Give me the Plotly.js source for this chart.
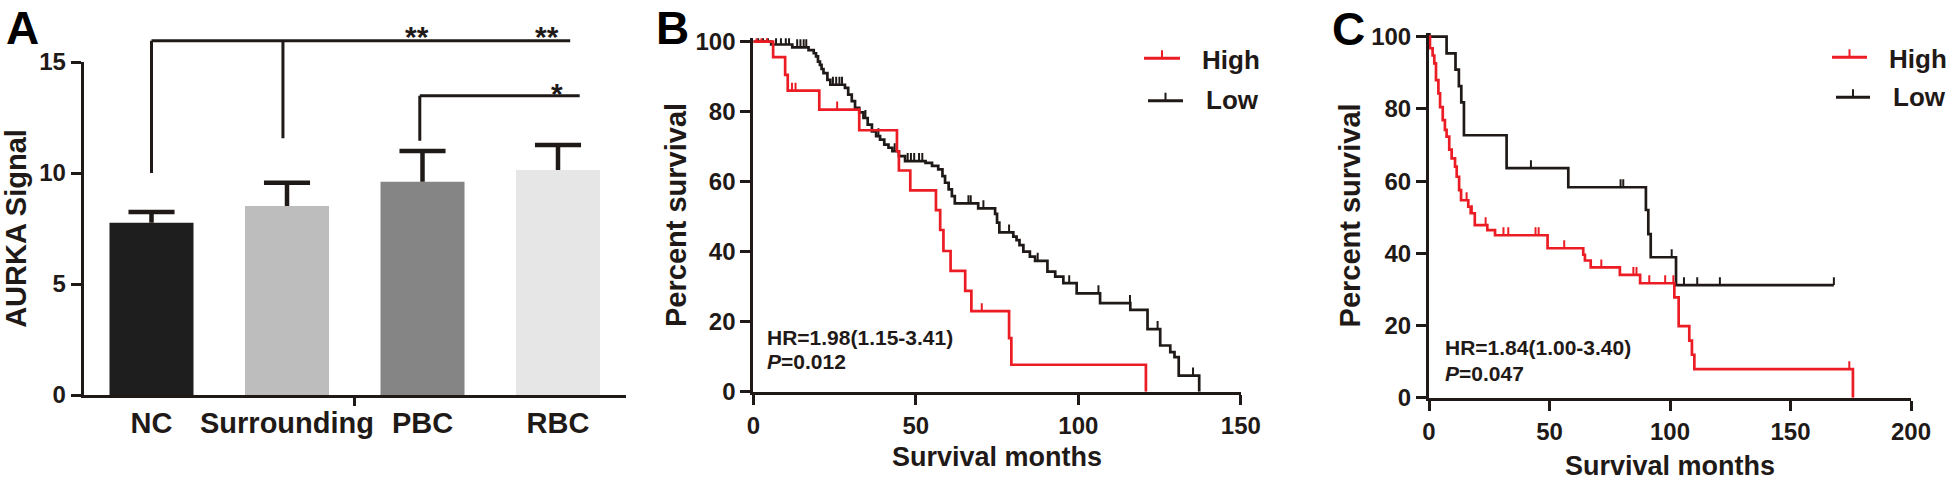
<!DOCTYPE html>
<html>
<head>
<meta charset="utf-8">
<script src="https://cdn.plot.ly/plotly-3.0.1.min.js"></script>
<style>
html,body{margin:0;padding:0;background:#ffffff;}
#chart{width:1946px;height:481px;}
</style>
</head>
<body>
<div id="chart"></div>
<script>
// ---------------- Panel A data ----------------
const groupPos = [0, 1, 2, 3];
const groupLabels = ['NC', 'Surrounding', 'PBC', 'RBC'];
const signalMean = [7.76, 8.51, 9.61, 10.14];
const signalSD = [0.48, 1.05, 1.38, 1.12];
const barColors = ['#1e1e1e', '#bdbdbd', '#858585', '#e6e6e6'];
// significance bracket segments (x in group index, y in signal units)
const bracketX0 = [0.00, 0.00, 0.97, 1.98, 1.98];
const bracketY0 = [15.96, 10.00, 11.56, 13.48, 11.45];
const bracketX1 = [3.09, 0.00, 0.97, 3.16, 1.98];
const bracketY1 = [15.96, 15.96, 15.96, 13.48, 13.48];
const sigText = ['**', '**', '*'];
const sigX = [1.96, 2.92, 2.99];
const sigY = [16.15, 16.15, 13.6];

// ---------------- Panel B data (months, % survival) ----------------
const bHighT = [0, 6.1, 9.8, 10.6, 20.3, 32.6, 44.2, 44.8, 48.3, 56.2, 57.5, 58.5, 60.7, 65.2, 67.1, 78.7, 79.4, 120.8];
const bHighS = [100, 95.6, 90.5, 86.0, 80.6, 74.7, 68.7, 63.2, 57.5, 51.9, 46.2, 40.2, 34.5, 28.8, 23.0, 15.3, 7.7, 0];
const bHighCensor = [1.0, 2.5, 4.2, 11.9, 13.0, 25.8, 70.3];
const bLowT = [0, 5.5, 12.0, 17.0, 18.6, 19.3, 19.9, 20.5, 21.0, 21.6, 22.8, 23.7, 28.2, 29.2, 30.3, 31.3, 32.6, 33.9, 35.2, 36.5, 37.8, 39.0, 40.3, 41.6, 42.8, 44.8, 46.7, 53.0, 55.0, 56.9, 58.2, 59.0, 60.1, 61.1, 62.0, 69.2, 74.4, 75.0, 75.7, 80.0, 81.0, 81.9, 83.1, 85.1, 86.7, 90.5, 92.9, 95.4, 99.5, 106.7, 116.0, 121.3, 125.2, 128.3, 129.6, 130.9, 137.2];
const bLowS = [100, 99.2, 98.4, 97.6, 96.7, 95.8, 94.3, 93.4, 92.2, 91.0, 89.1, 87.7, 86.8, 84.9, 83.0, 81.1, 79.8, 78.2, 76.3, 74.4, 73.0, 72.0, 70.6, 69.7, 68.7, 67.3, 65.9, 65.4, 64.5, 63.5, 61.6, 59.7, 57.8, 55.9, 53.8, 52.4, 50.8, 48.3, 45.5, 44.3, 43.3, 41.9, 40.0, 38.6, 37.4, 34.3, 32.9, 31.0, 28.1, 25.3, 23.4, 17.9, 13.2, 11.3, 9.9, 4.6, 0];
const bLowCensor = [1.5, 3.0, 4.5, 7.0, 8.5, 10.0, 11.0, 13.5, 14.5, 15.5, 16.3, 24.5, 25.5, 26.5, 27.3, 34.5, 38.5, 43.5, 47.5, 48.5, 49.5, 51.0, 52.0, 66.2, 66.9, 70.8, 78.7, 87.5, 97.2, 106.2, 115.9, 124.4, 135.3];
const bStats = ['HR=1.98(1.15-3.41)', '<i>P</i>=0.012'];

// ---------------- Panel C data ----------------
const cHighT = [0, 0.4, 1.5, 2.2, 2.9, 3.9, 4.6, 5.7, 6.6, 7.3, 8.4, 9.4, 10.8, 11.5, 12.5, 13.3, 16.3, 17.3, 19.0, 24.2, 27.4, 49.2, 64.0, 64.7, 67.1, 79.2, 87.6, 101.8, 103.6, 108.0, 109.1, 110.1, 175.9];
const cHighS = [100, 96.8, 94.8, 92.6, 88.0, 84.3, 80.5, 76.9, 74.2, 72.3, 68.7, 66.3, 64.0, 61.2, 57.5, 54.7, 52.9, 51.1, 47.8, 46.4, 45.0, 41.4, 39.6, 38.0, 36.1, 34.0, 31.7, 27.8, 19.8, 15.8, 11.9, 7.9, 0];
const cHighCensor = [15.6, 17.8, 23.5, 30.9, 32.9, 44.2, 45.5, 56.1, 71.5, 84.8, 86.1, 91.4, 98.0, 101.4, 174.4];
const cLowT = [0, 7.3, 11.0, 12.4, 13.4, 14.5, 32.2, 57.8, 90.0, 91.0, 92.0, 102.5, 168.0];
const cLowS = [100, 95.4, 90.9, 86.3, 81.8, 72.7, 63.6, 58.3, 52.0, 45.3, 38.9, 31.2, 31.2];
const cLowCensor = [0.3, 42.3, 79.5, 80.6, 100.7, 105.8, 111.3, 120.7, 168.0];
const cStats = ['HR=1.84(1.00-3.40)', '<i>P</i>=0.047'];

const seriesNames = ['High', 'Low'];
const panelLetters = ['A', 'B', 'C'];

// ---------------- styling ----------------
const FONT = '"Liberation Sans", Arial, Helvetica, sans-serif';
const INK = '#1f1a17';
const RED = '#ec1c24';
const W = 1946, H = 481;
const px = x => x / W;
const py = y => 1 - y / H;

function survAt(T, S, t) {
  let s = S[0];
  for (let i = 0; i < T.length; i++) { if (T[i] <= t) s = S[i]; }
  return s;
}
function censorTrace(T, S, C, color, len, xa, ya) {
  const xs = [], ys = [];
  C.forEach(t => { const s = survAt(T, S, t); xs.push(t, t, null); ys.push(s, s + len, null); });
  return {type: 'scatter', mode: 'lines', x: xs, y: ys, xaxis: xa, yaxis: ya,
          line: {color: color, width: 2}, hoverinfo: 'skip', showlegend: false};
}
function kmTrace(T, S, color, xa, ya) {
  return {type: 'scatter', mode: 'lines', x: T, y: S, xaxis: xa, yaxis: ya,
          line: {color: color, width: 2.7, shape: 'hv'}, hoverinfo: 'skip', showlegend: false};
}

// error bar lines for panel A (upward only)
const ebX = [], ebY = [];
groupPos.forEach((g, i) => {
  const top = signalMean[i] + signalSD[i];
  ebX.push(g, g, null, g - 0.17, g + 0.17, null);
  ebY.push(signalMean[i], top, null, top, top, null);
});

const traces = [
  {type: 'bar', x: groupPos, y: signalMean, xaxis: 'x', yaxis: 'y', width: 0.62,
   marker: {color: barColors, line: {width: 0}}, hoverinfo: 'skip', showlegend: false},
  {type: 'scatter', mode: 'lines', x: ebX, y: ebY, xaxis: 'x4', yaxis: 'y4',
   line: {color: INK, width: 4.5}, hoverinfo: 'skip', showlegend: false},
  kmTrace(bLowT, bLowS, INK, 'x2', 'y2'),
  censorTrace(bLowT, bLowS, bLowCensor, INK, 2.3, 'x2', 'y2'),
  kmTrace(bHighT, bHighS, RED, 'x2', 'y2'),
  censorTrace(bHighT, bHighS, bHighCensor, RED, 2.3, 'x2', 'y2'),
  kmTrace(cLowT, cLowS, INK, 'x3', 'y3'),
  censorTrace(cLowT, cLowS, cLowCensor, INK, 2.2, 'x3', 'y3'),
  kmTrace(cHighT, cHighS, RED, 'x3', 'y3'),
  censorTrace(cHighT, cHighS, cHighCensor, RED, 2.2, 'x3', 'y3')
];

const axisBase = {showgrid: false, zeroline: false, showline: true, linewidth: 3, linecolor: INK,
                  ticks: 'outside', ticklen: 10, tickwidth: 3, tickcolor: INK, fixedrange: true};
const tickBold = s => ({family: FONT, size: s, color: INK, weight: 'bold'});

const shapes = [];
bracketX0.forEach((x0, i) => {
  shapes.push({type: 'line', xref: 'x4', yref: 'y4', x0: x0, y0: bracketY0[i], x1: bracketX1[i], y1: bracketY1[i],
               line: {color: INK, width: 3}});
});
// legends (B and C)
const legendDefs = [
  {x0: 1144, x1: 1180, y: 58.3, color: RED, tx: 1200, ty: 60, name: seriesNames[0]},
  {x0: 1148, x1: 1183, y: 100.7, color: INK, tx: 1204, ty: 100, name: seriesNames[1]},
  {x0: 1832, x1: 1867, y: 57.3, color: RED, tx: 1887, ty: 59, name: seriesNames[0]},
  {x0: 1836, x1: 1870, y: 97.3, color: INK, tx: 1891, ty: 97, name: seriesNames[1]}
];
const annotations = [];
legendDefs.forEach(d => {
  shapes.push({type: 'line', xref: 'paper', yref: 'paper', x0: px(d.x0), x1: px(d.x1), y0: py(d.y), y1: py(d.y),
               line: {color: d.color, width: 3}});
  const mid = (d.x0 + d.x1) / 2;
  shapes.push({type: 'line', xref: 'paper', yref: 'paper', x0: px(mid), x1: px(mid), y0: py(d.y), y1: py(d.y - 8),
               line: {color: d.color, width: 2}});
  annotations.push({xref: 'paper', yref: 'paper', x: px(d.tx), y: py(d.ty), xanchor: 'left', yanchor: 'middle',
                    text: d.name, showarrow: false, font: tickBold(26)});
});
// significance stars
sigText.forEach((t, i) => {
  annotations.push({xref: 'x4', yref: 'y4', x: sigX[i], y: sigY[i], text: t, showarrow: false,
                    xanchor: 'center', yanchor: 'middle', font: tickBold(30)});
});
// stats text
[[bStats, 'x2', 'y2', 3.6, [15.6, 8.5]], [cStats, 'x3', 'y3', 5.9, [14.0, 6.6]]].forEach(([st, xa, ya, x, ys]) => {
  st.forEach((t, i) => annotations.push({xref: xa, yref: ya, x: x, y: ys[i], text: t, showarrow: false,
    xanchor: 'left', yanchor: 'middle', font: tickBold(21)}));
});
// panel letters
[[22, 28], [672, 28], [1348, 29]].forEach((p, i) => {
  annotations.push({xref: 'paper', yref: 'paper', x: px(p[0]), y: py(p[1]), text: panelLetters[i], showarrow: false,
                    xanchor: 'center', yanchor: 'middle', font: {family: FONT, size: 46, color: '#000', weight: 'bold'}});
});

const layout = {
  width: W, height: H, margin: {l: 0, r: 0, t: 0, b: 0},
  paper_bgcolor: '#ffffff', plot_bgcolor: 'rgba(0,0,0,0)', showlegend: false,
  font: {family: FONT, color: INK},
  // Panel A
  xaxis: Object.assign({}, axisBase, {domain: [px(83.75), px(625.75)], range: [-0.5, 3.5], anchor: 'y',
    tickvals: groupPos, ticktext: groupLabels, ticks: '', tickfont: tickBold(29)}),
  yaxis: Object.assign({}, axisBase, {domain: [py(395), py(62)], range: [0, 15], anchor: 'x',
    tickvals: [0, 5, 10, 15], tickfont: tickBold(24),
    title: {text: 'AURKA Signal', font: tickBold(29), standoff: 10}}),
  xaxis4: {domain: [px(83.75), px(625.75)], range: [-0.5, 3.5], anchor: 'y4', showgrid: false, zeroline: false,
    showline: false, tickvals: [1.5], ticks: 'outside', ticklen: 10, tickwidth: 3, tickcolor: INK,
    showticklabels: false, fixedrange: true},
  yaxis4: {domain: [py(395), py(17.6)], range: [0, 17], anchor: 'x4', visible: false, fixedrange: true},
  // Panel B
  xaxis2: Object.assign({}, axisBase, {domain: [px(753.3), px(1240.8)], range: [0, 150], anchor: 'y2',
    tickvals: [0, 50, 100, 150], tickfont: tickBold(24),
    title: {text: 'Survival months', font: tickBold(27), standoff: 10}}),
  yaxis2: Object.assign({}, axisBase, {domain: [py(391.7), py(38.2)], range: [0, 101], anchor: 'x2',
    tickvals: [0, 20, 40, 60, 80, 100], tickfont: tickBold(24),
    title: {text: 'Percent survival', font: tickBold(29), standoff: 1}}),
  // Panel C
  xaxis3: Object.assign({}, axisBase, {domain: [px(1429), px(1911)], range: [0, 200], anchor: 'y3',
    tickvals: [0, 50, 100, 150, 200], tickfont: tickBold(24),
    title: {text: 'Survival months', font: tickBold(27), standoff: 19}}),
  yaxis3: Object.assign({}, axisBase, {domain: [py(397.7), py(33.1)], range: [0, 101], anchor: 'x3',
    tickvals: [0, 20, 40, 60, 80, 100], tickfont: tickBold(24),
    title: {text: 'Percent survival', font: tickBold(29), standoff: 2}}),
  shapes: shapes,
  annotations: annotations
};

Plotly.newPlot('chart', traces, layout, {staticPlot: true, displayModeBar: false});
</script>
</body>
</html>
